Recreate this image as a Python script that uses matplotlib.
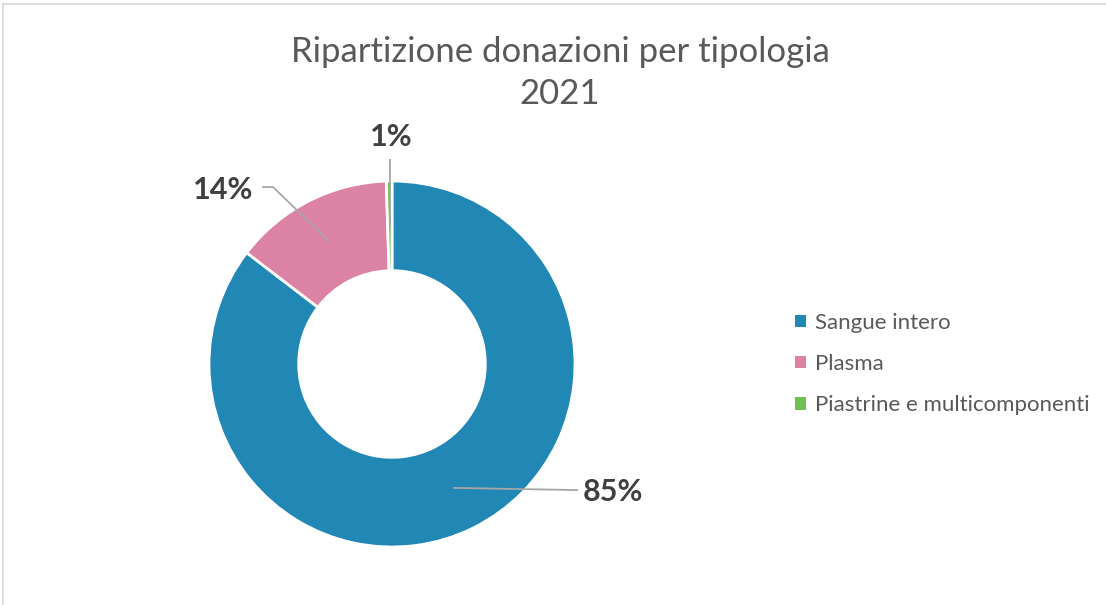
import numpy as np
import matplotlib
matplotlib.use("Agg")
import matplotlib.pyplot as plt
from matplotlib.patches import Patch
from matplotlib.lines import Line2D

categorie = ["Sangue intero", "Plasma", "Piastrine e multicomponenti"]
valori = [85.4, 14.1, 0.5]
etichette = ["85%", "14%", "1%"]
colori = ["#2187b4", "#dc82a4", "#70bf50"]
titolo = "Ripartizione donazioni per tipologia\n2021"

plt.rcParams['font.family'] = ['Lato', 'DejaVu Sans']

W, H = 1106, 605
fig = plt.figure(figsize=(W / 100, H / 100), dpi=100)

# donut: centre (392, 364) px, outer radius 183 px
R = 183
cx, cy = 392, H - 364
span = 1.6
ax = fig.add_axes([(cx - span * R) / W, (cy - span * R) / H, 2 * span * R / W, 2 * span * R / H])
wedges, _ = ax.pie(valori, colors=colori, startangle=90, counterclock=False,
                   wedgeprops=dict(width=0.49, edgecolor="white", linewidth=2))
ax.set_xlim(-span, span)
ax.set_ylim(-span, span)
ax.set_aspect("equal")
ax.axis("off")

# leader lines from middle of ring to labels
testo_pos = [(1.04, -0.70), (-0.76, 0.951), (-0.005, 1.24)]
gomito = [(1.016, -0.689), (-0.65, 0.967), None]
for w, lab, tp, gp in zip(wedges, etichette, testo_pos, gomito):
    ang = np.deg2rad((w.theta1 + w.theta2) / 2)
    ax_, ay_ = 0.755 * np.cos(ang), 0.755 * np.sin(ang)
    if gp is None:
        xs, ys = [ax_, ax_], [ay_, 1.12]
        ha = "center"
    elif tp[0] > 0:
        xs, ys = [ax_, gp[0]], [ay_, gp[1]]
        ha = "left"
    else:
        xs, ys = [ax_, gp[0], gp[0] - 0.06], [ay_, gp[1], gp[1]]
        ha = "right"
    ax.plot(xs, ys, color="#a6a6a6", lw=1.3, solid_capstyle="butt", clip_on=False)
    ax.text(tp[0], tp[1], lab, ha=ha, va="center", fontsize=22,
            fontweight="bold", color="#404040")

fig.text(560 / W, 1 - 73 / H, titolo, ha="center", va="center", fontsize=25,
         color="#595959", linespacing=1.38)

handles = [Patch(facecolor=c, edgecolor="none") for c in colori]
fig.legend(handles, categorie, loc="center left", bbox_to_anchor=(775 / W, 1 - 364 / H),
           frameon=False, fontsize=16, labelcolor="#595959", handlelength=0.5,
           handleheight=0.5, handletextpad=0.4, labelspacing=0.95)

# chart border (only top and left visible)
fig.add_artist(Line2D([3 / W, 1], [1 - 4 / H, 1 - 4 / H], color="#d9d9d9", lw=1.2))
fig.add_artist(Line2D([3 / W, 3 / W], [0, 1 - 4 / H], color="#d9d9d9", lw=1.2))

fig.savefig("out.png", dpi=100, facecolor="white")
